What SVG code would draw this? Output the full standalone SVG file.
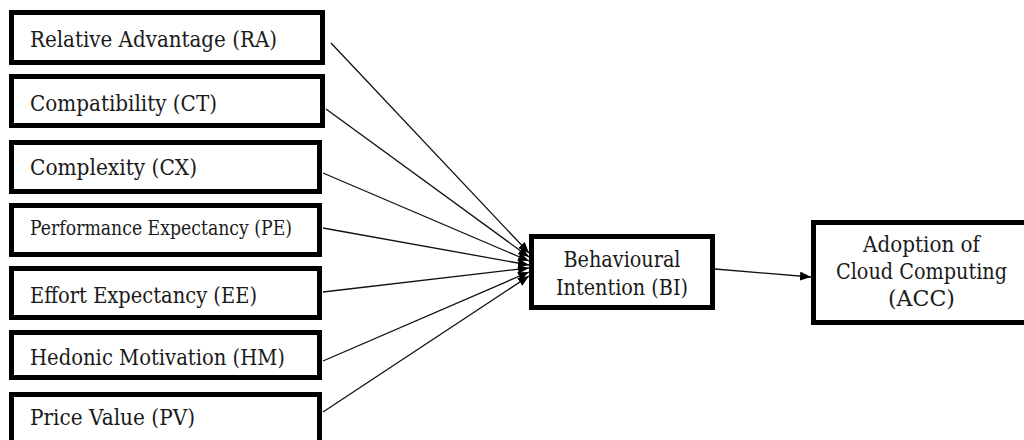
<svg xmlns="http://www.w3.org/2000/svg" width="1024" height="440" viewBox="0 0 1024 440">
  <style>
    .box { fill: #fff; stroke: #000; stroke-width: 5; }
    .lbl { font-family: 'DejaVu Serif', serif; font-size: 21.5px; fill: #1a1a1a; }
    .sm { font-size: 19.5px; }
    .mid { text-anchor: middle; }
    .conn { stroke: #111; stroke-width: 1.3; fill: none; marker-end: url(#arr); }
  </style>
  <defs>
    <marker id="arr" markerUnits="userSpaceOnUse" markerWidth="11" markerHeight="9" refX="11" refY="4.5" orient="auto">
      <path d="M0,0 L11,4.5 L0,9 z" fill="#000"/>
    </marker>
  </defs>
  <rect width="1024" height="440" fill="#fff"/>

  <g id="connectors">
    <line class="conn" x1="331" y1="43" x2="529" y2="253"/>
    <line class="conn" x1="326" y1="109" x2="529" y2="257"/>
    <line class="conn" x1="323" y1="173" x2="529" y2="261"/>
    <line class="conn" x1="323" y1="228" x2="529" y2="265"/>
    <line class="conn" x1="323" y1="292" x2="529" y2="268"/>
    <line class="conn" x1="323" y1="361" x2="529" y2="272"/>
    <line class="conn" x1="323" y1="412" x2="529" y2="276"/>
    <line class="conn" x1="715" y1="269" x2="811" y2="277"/>
  </g>

  <g id="RA">
    <rect class="box" x="11.5" y="12.5" width="311" height="50"/>
    <text class="lbl" x="30" y="47" textLength="247" lengthAdjust="spacingAndGlyphs">Relative Advantage (RA)</text>
  </g>
  <g id="CT">
    <rect class="box" x="11.5" y="76.5" width="311" height="49"/>
    <text class="lbl" x="30" y="111" textLength="187" lengthAdjust="spacingAndGlyphs">Compatibility (CT)</text>
  </g>
  <g id="CX">
    <rect class="box" x="11.5" y="142.5" width="308" height="49"/>
    <text class="lbl" x="30" y="175" textLength="167" lengthAdjust="spacingAndGlyphs">Complexity (CX)</text>
  </g>
  <g id="PE">
    <rect class="box" x="11.5" y="205.5" width="308" height="49"/>
    <text class="lbl sm" x="30" y="235" textLength="262" lengthAdjust="spacingAndGlyphs">Performance Expectancy (PE)</text>
  </g>
  <g id="EE">
    <rect class="box" x="11.5" y="268.5" width="308" height="49"/>
    <text class="lbl" x="30" y="303" textLength="227" lengthAdjust="spacingAndGlyphs">Effort Expectancy (EE)</text>
  </g>
  <g id="HM">
    <rect class="box" x="11.5" y="332.5" width="308" height="45"/>
    <text class="lbl" x="30" y="365" textLength="255" lengthAdjust="spacingAndGlyphs">Hedonic Motivation (HM)</text>
  </g>
  <g id="PV">
    <rect class="box" x="11.5" y="394.5" width="308" height="52"/>
    <text class="lbl" x="30" y="425" textLength="165" lengthAdjust="spacingAndGlyphs">Price Value (PV)</text>
  </g>
  <g id="BI">
    <rect class="box" x="531.5" y="236.5" width="181" height="71"/>
    <text class="lbl mid" x="622" y="267" textLength="117" lengthAdjust="spacingAndGlyphs">Behavioural</text>
    <text class="lbl mid" x="622" y="295" textLength="132" lengthAdjust="spacingAndGlyphs">Intention (BI)</text>
  </g>
  <g id="ACC">
    <rect x="813.5" y="222.5" width="210.5" height="100" fill="#fff"/>
    <path d="M1024,222.5 H813.5 V322.5 H1024" fill="none" stroke="#000" stroke-width="5"/>
    <text class="lbl mid" x="921.5" y="252" textLength="117" lengthAdjust="spacingAndGlyphs">Adoption of</text>
    <text class="lbl mid" x="921.5" y="279" textLength="171" lengthAdjust="spacingAndGlyphs">Cloud Computing</text>
    <text class="lbl mid" x="921.5" y="306" textLength="67" lengthAdjust="spacingAndGlyphs">(ACC)</text>
  </g>
</svg>
